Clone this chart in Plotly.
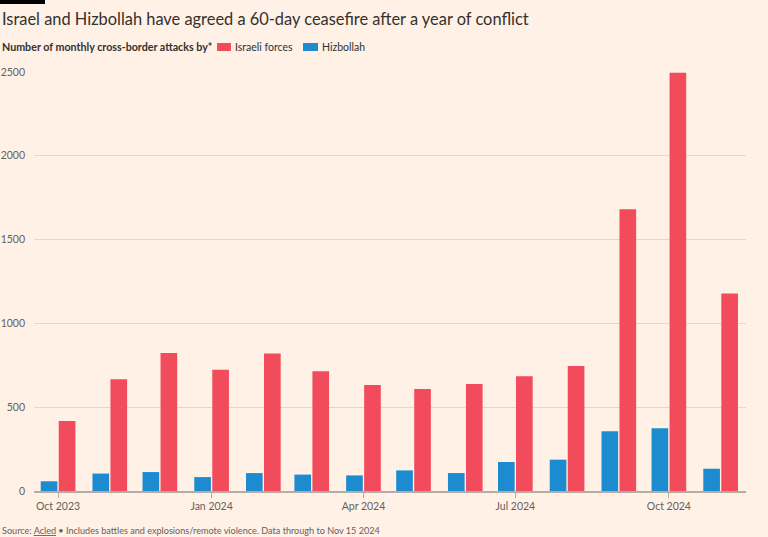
import plotly.graph_objects as go

months = ["2023-10-01", "2023-11-01", "2023-12-01", "2024-01-01", "2024-02-01",
          "2024-03-01", "2024-04-01", "2024-05-01", "2024-06-01", "2024-07-01",
          "2024-08-01", "2024-09-01", "2024-10-01", "2024-11-01"]
hizbollah = [58, 104, 113, 83, 107, 98, 93, 123, 107, 173, 187, 357, 375, 133]
israeli = [417, 667, 824, 724, 821, 714, 633, 609, 639, 685, 746, 1681, 2495, 1179]

tick_dates = ["2023-10-01", "2024-01-01", "2024-04-01", "2024-07-01", "2024-10-01"]
tick_text = ["Oct 2023", "Jan 2024", "Apr 2024", "Jul 2024", "Oct 2024"]
y_ticks = [0, 500, 1000, 1500, 2000, 2500]

RED = "#f24b5c"
BLUE = "#1d8bcf"
BG = "#fff1e5"
FONT = "Lato"
GREY = "#66605c"

W, H = 768, 537
L, R, T, B = 34, 22, 72, 46
PW, PH = W - L - R, H - T - B


def px(x):
    return (x - L) / PW


def py(y):
    return (H - B - y) / PH


fig = go.Figure()
fig.add_bar(x=months, y=hizbollah, name="Hizbollah", marker_color=BLUE,
            marker_line_width=0, showlegend=False)
fig.add_bar(x=months, y=israeli, name="Israeli forces", marker_color=RED,
            marker_line_width=0, showlegend=False)

annotations = [
    dict(text="Israel and Hizbollah have agreed a 60-day ceasefire after a year of conflict",
         x=px(0), y=py(19), xanchor="left", yanchor="middle",
         font=dict(family=FONT, size=16.4, color="#33302e")),
    dict(text="<b>Number of monthly cross-border attacks by*</b>",
         x=px(0), y=py(47), xanchor="left", yanchor="middle",
         font=dict(family=FONT, size=10.7, color="#33302e")),
    dict(text="Israeli forces", x=px(233), y=py(47), xanchor="left", yanchor="middle",
         font=dict(family=FONT, size=10.5, color="#33302e")),
    dict(text="Hizbollah", x=px(320), y=py(47), xanchor="left", yanchor="middle",
         font=dict(family=FONT, size=10.5, color="#33302e")),
    dict(text="Source: <u>Acled</u> \u2022 Includes battles and explosions/remote violence. Data through to Nov 15 2024",
         x=px(0), y=py(530), xanchor="left", yanchor="middle",
         font=dict(family=FONT, size=9.1, color=GREY)),
]
for a in annotations:
    a.update(xref="paper", yref="paper", showarrow=False)

shapes = [
    dict(type="rect", xref="paper", yref="paper", x0=px(0), x1=px(45), y0=py(0), y1=py(4),
         fillcolor="#000000", line_width=0),
    dict(type="rect", xref="paper", yref="paper", x0=px(217), x1=px(231), y0=py(43), y1=py(51),
         fillcolor=RED, line_width=0),
    dict(type="rect", xref="paper", yref="paper", x0=px(303), x1=px(318), y0=py(43), y1=py(51),
         fillcolor=BLUE, line_width=0),
]

fig.update_layout(
    width=W, height=H,
    margin=dict(l=L, r=R, t=T, b=B, pad=0),
    paper_bgcolor=BG, plot_bgcolor=BG,
    barmode="group", bargap=0.256, bargroupgap=0.075,
    annotations=annotations, shapes=shapes,
    font=dict(family=FONT, color=GREY),
    xaxis=dict(type="date", range=["2023-09-16 14:00", "2024-11-16 05:00"],
               tickvals=tick_dates, ticktext=tick_text, automargin=False,
               ticks="outside", ticklen=5, tickcolor="#b7aca4", tickwidth=1,
               showgrid=False, showline=True, linecolor="#b7aca4", linewidth=1.5,
               tickfont=dict(family=FONT, size=10.5, color=GREY), fixedrange=True),
    yaxis=dict(range=[0, 2500], tickvals=y_ticks, showgrid=True, gridcolor="#e5d6ca",
               gridwidth=1, zeroline=False, showline=False, ticks="",
               ticklabelstandoff=8, automargin=False,
               tickfont=dict(family=FONT, size=10.5, color=GREY), fixedrange=True),
)

fig.write_html("out.html", config={"displayModeBar": False},
               post_script="document.body.style.margin='0';document.body.style.padding='0';")
